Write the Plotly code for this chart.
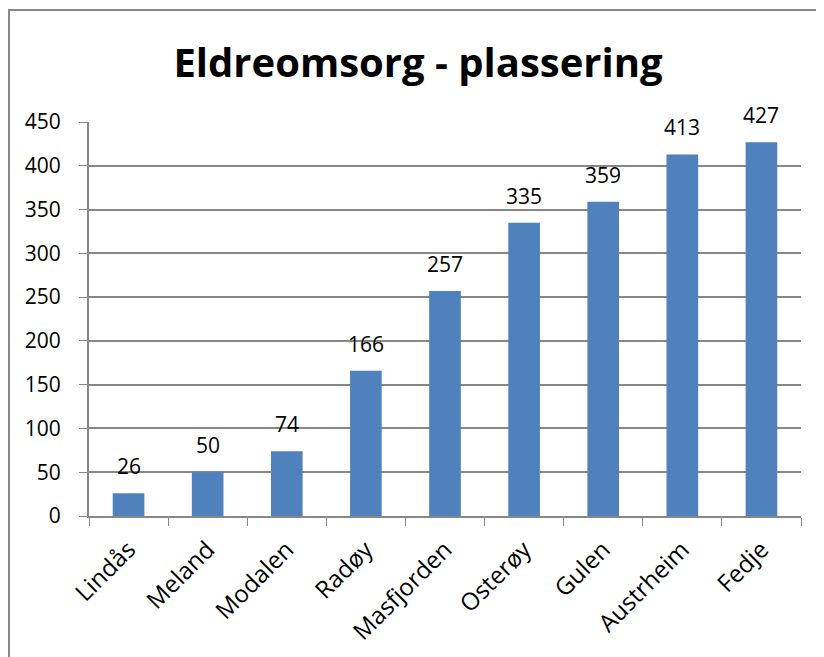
import plotly.graph_objects as go

kommuner = ["Lindås", "Meland", "Modalen", "Radøy", "Masfjorden",
            "Osterøy", "Gulen", "Austrheim", "Fedje"]
plassering = [26, 50, 74, 166, 257, 335, 359, 413, 427]
y_ticks = [0, 50, 100, 150, 200, 250, 300, 350, 400, 450]

FONT = "Open Sans"
GRAY = "#878787"

fig = go.Figure()
fig.add_trace(go.Bar(
    x=kommuner, y=plassering,
    marker=dict(color="#4F81BD", line=dict(width=0)),
))

# data labels above each bar, with a gap like the original
for k, v in zip(kommuner, plassering):
    fig.add_annotation(x=k, y=v, text=str(v), showarrow=False,
                       yanchor="bottom", yshift=11,
                       font=dict(family=FONT, size=21, color="black"))

fig.update_layout(
    width=824, height=657,
    paper_bgcolor="white", plot_bgcolor="white",
    margin=dict(l=81, r=31, t=114, b=149),
    bargap=0.6,
    showlegend=False,
    title=dict(text="<b>Eldreomsorg - plassering</b>", x=0.4976, xanchor="center",
               y=0.916, yanchor="middle",
               font=dict(family=FONT, size=40, color="black")),
    font=dict(family=FONT, size=21, color="black"),
    shapes=[dict(type="rect", xref="paper", yref="paper",
                 x0=-0.1124, x1=1.2, y0=-0.6, y1=1.284,
                 line=dict(color=GRAY, width=2), layer="below")],
)

fig.update_xaxes(
    tickangle=-45, tickson="boundaries", ticks="outside", ticklen=8,
    tickcolor=GRAY, showline=True, linecolor=GRAY, linewidth=2,
    showgrid=False, tickfont=dict(family=FONT, size=24), ticklabelstandoff=8,
)
fig.update_yaxes(
    range=[0, 450], tickvals=y_ticks, ticks="outside", ticklen=8,
    tickcolor=GRAY, showline=True, linecolor=GRAY, linewidth=2,
    showgrid=True, gridcolor=GRAY, gridwidth=2, zeroline=False,
    tickfont=dict(family=FONT, size=21), ticklabelstandoff=14,
)

fig.write_html("out.html")
